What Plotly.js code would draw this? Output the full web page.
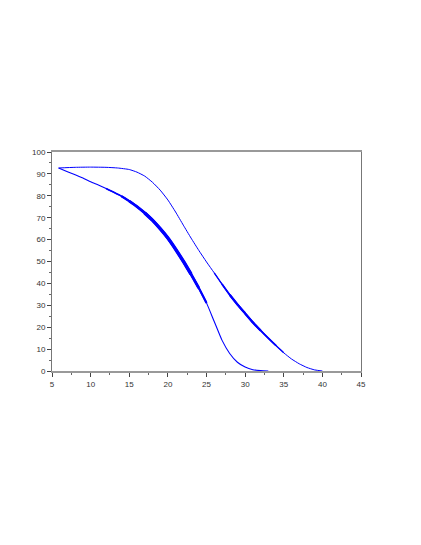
<!DOCTYPE html>
<html><head><meta charset="utf-8">
<script src="https://cdn.plot.ly/plotly-3.0.1.min.js"></script>
<style>html,body{margin:0;padding:0;background:#fff;}#c{width:421px;height:545px;}</style>
</head><body><div id="c"></div>
<script>
const upperX = [5.85, 8, 10, 12, 13.5, 15, 16, 17, 18, 19, 20, 21, 22, 23, 24, 25, 26, 27, 28, 29, 30, 31, 32, 33, 34, 35, 36, 37, 38, 39, 40];
const upperY = [92.7, 93.0, 93.1, 93.0, 92.7, 92.0, 90.8, 89.0, 86.2, 82.6, 78.1, 72.6, 66.6, 60.7, 55.1, 49.8, 44.8, 39.7, 34.8, 30.4, 26.3, 22.2, 18.5, 15, 11.6, 8.3, 5.5, 3.3, 1.6, 0.5, 0];
const lowerX = [5.85, 7, 8, 9, 10, 11, 12, 13, 14, 15, 16, 17, 18, 19, 20, 21, 22, 23, 24, 25, 26, 27, 28, 29, 30, 31, 32, 33];
const lowerY = [92.7, 91.0, 89.6, 88.1, 86.4, 84.9, 83.3, 81.6, 79.8, 77.6, 75.1, 72.2, 68.9, 65, 60.7, 55.6, 50.1, 44.2, 37.9, 31.1, 22.6, 14.1, 8.0, 4.0, 1.8, 0.6, 0.15, 0];

function seg(xs, ys, a, b) {
  const x = [], y = [];
  for (let i = 0; i < xs.length; i++) if (xs[i] >= a && xs[i] <= b) { x.push(xs[i]); y.push(ys[i]); }
  return {x, y};
}
const blue = '#0000ff';
function tr(s, w) { return {x: s.x, y: s.y, mode: 'lines', line: {color: blue, width: w, shape: 'spline', smoothing: 0.5}, hoverinfo: 'none', showlegend: false}; }

// thin full curves, then progressively thicker overlays where the reference line is heavier
const upperBands = [[0, 50, 1], [26, 35, 1.4], [27, 34, 1.8], [28, 32, 2.3]];
const lowerBands = [[0, 50, 1.1], [12, 25, 1.6], [14, 25, 2.2], [15, 24, 2.8], [17, 23, 3.4]];

const traces = [];
upperBands.forEach(b => traces.push(tr(seg(upperX, upperY, b[0], b[1]), b[2])));
lowerBands.forEach(b => traces.push(tr(seg(lowerX, lowerY, b[0], b[1]), b[2])));

const layout = {
  width: 421, height: 545,
  margin: {l: 52, r: 60, t: 152, b: 174},
  paper_bgcolor: '#fff', plot_bgcolor: '#fff',
  font: {family: 'Liberation Sans, Arial, sans-serif', size: 8, color: '#333'},
  xaxis: {range: [5, 45], dtick: 5, tick0: 5, showgrid: false, zeroline: false,
    showline: true, linecolor: '#999', linewidth: 2, mirror: true,
    ticks: 'outside', ticklen: 4, tickcolor: '#444', tickwidth: 1,
    minor: {dtick: 2.5, ticks: 'outside', ticklen: 2, tickcolor: '#666'},
    tickfont: {size: 8, color: '#333'}},
  yaxis: {range: [0, 100], dtick: 10, tick0: 0, showgrid: false, zeroline: false,
    showline: true, linecolor: '#777', linewidth: 1, mirror: true,
    ticks: 'outside', ticklen: 4, tickcolor: '#444', tickwidth: 1,
    minor: {dtick: 5, ticks: 'outside', ticklen: 2, tickcolor: '#666'},
    tickfont: {size: 8, color: '#333'}}
};
Plotly.newPlot('c', traces, layout, {displayModeBar: false, staticPlot: true});
</script></body></html>
